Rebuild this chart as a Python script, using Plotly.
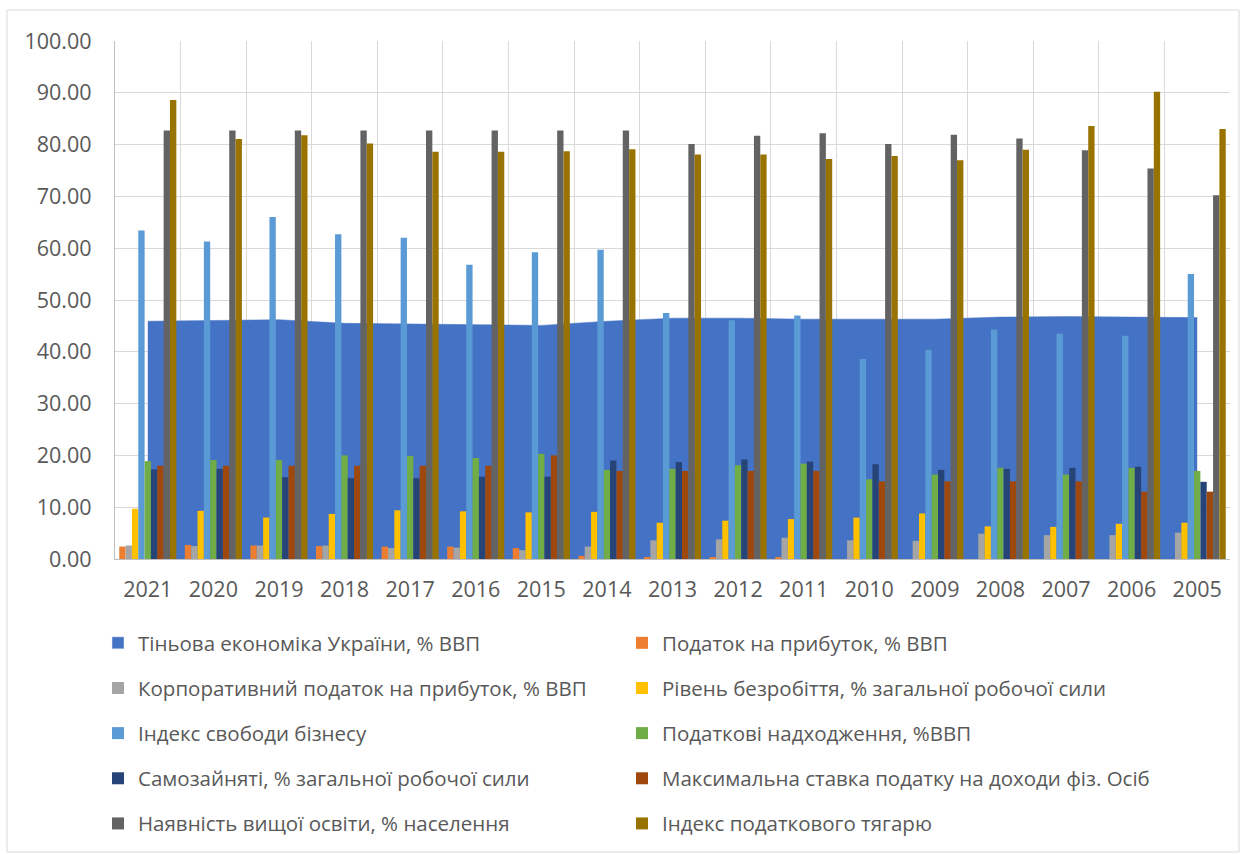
import plotly.graph_objects as go

# Years on the category axis (newest first)
years = ["2021", "2020", "2019", "2018", "2017", "2016", "2015", "2014", "2013",
         "2012", "2011", "2010", "2009", "2008", "2007", "2006", "2005"]

# Series values
shadow_economy = [45.9, 46.1, 46.2, 45.5, 45.4, 45.2, 45.1, 45.9, 46.5,
                  46.5, 46.3, 46.3, 46.3, 46.7, 46.8, 46.7, 46.6]
profit_tax = [2.4, 2.7, 2.6, 2.5, 2.4, 2.4, 2.1, 0.6, 0.3,
              0.3, 0.3, 0.0, 0.0, 0.0, 0.0, 0.0, 0.0]
corporate_tax = [2.6, 2.5, 2.6, 2.6, 2.1, 2.2, 1.7, 2.4, 3.6,
                 3.8, 4.1, 3.6, 3.5, 4.9, 4.6, 4.6, 5.1]
unemployment = [9.7, 9.3, 8.0, 8.7, 9.4, 9.2, 9.0, 9.1, 7.0,
                7.4, 7.7, 8.0, 8.8, 6.3, 6.2, 6.8, 7.0]
business_freedom = [63.4, 61.3, 66.0, 62.7, 62.0, 56.8, 59.2, 59.7, 47.5,
                    46.1, 47.0, 38.6, 40.4, 44.3, 43.5, 43.1, 55.0]
tax_revenue = [18.9, 19.1, 19.1, 20.0, 19.9, 19.5, 20.3, 17.2, 17.4,
               18.1, 18.4, 15.4, 16.3, 17.6, 16.3, 17.6, 17.0]
self_employed = [17.3, 17.4, 15.8, 15.6, 15.6, 15.9, 15.9, 19.0, 18.7,
                 19.2, 18.8, 18.3, 17.2, 17.4, 17.6, 17.8, 14.9]
max_income_tax = [18.0, 18.0, 18.0, 18.0, 18.0, 18.0, 20.0, 17.0, 17.0,
                  17.0, 17.0, 15.0, 15.0, 15.0, 15.0, 13.0, 13.0]
higher_education = [82.7, 82.7, 82.7, 82.7, 82.7, 82.7, 82.7, 82.7, 80.1,
                    81.7, 82.2, 80.1, 81.9, 81.2, 78.9, 75.4, 70.2]
tax_burden = [88.6, 81.1, 81.8, 80.2, 78.6, 78.6, 78.7, 79.1, 78.1,
              78.1, 77.2, 77.8, 77.0, 79.0, 83.6, 90.2, 83.0]

y_ticks = [0, 10, 20, 30, 40, 50, 60, 70, 80, 90, 100]

AREA_NAME = "Тіньова економіка України, % ВВП"
AREA_COLOR = "#4472C4"

# (name, values, colour, legend column)
bar_series = [
    ("Податок на прибуток, % ВВП", profit_tax, "#ED7D31", "legend2"),
    ("Корпоративний податок на прибуток, % ВВП", corporate_tax, "#A5A5A5", "legend"),
    ("Рівень безробіття, % загальної робочої сили", unemployment, "#FFC000", "legend2"),
    ("Індекс свободи бізнесу", business_freedom, "#5B9BD5", "legend"),
    ("Податкові надходження, %ВВП", tax_revenue, "#70AD47", "legend2"),
    ("Самозайняті, % загальної робочої сили", self_employed, "#264478", "legend"),
    ("Максимальна ставка податку на доходи фіз. Осіб", max_income_tax, "#9E480E", "legend2"),
    ("Наявність вищої освіти, % населення", higher_education, "#636363", "legend"),
    ("Індекс податкового тягарю", tax_burden, "#997300", "legend2"),
]

FONT = "Open Sans"
TEXT_COLOR = "#595959"
GRID = "#D9D9D9"

fig = go.Figure()

# Area series sits on the base axes so the bars (overlay axes) draw above it
fig.add_trace(go.Scatter(
    x=years, y=shadow_economy, name=AREA_NAME,
    mode="lines", line=dict(color=AREA_COLOR, width=0.5), fill="tozeroy",
    fillcolor=AREA_COLOR, xaxis="x", yaxis="y",
    showlegend=False, legendgroup="g0",
))
# Square legend key for the area series (no visible mark of its own)
fig.add_trace(go.Bar(
    x=[years[0]], y=[None], name=AREA_NAME, marker=dict(color=AREA_COLOR),
    xaxis="x", yaxis="y", legend="legend", legendgroup="g0", hoverinfo="skip",
))

for i, (name, vals, color, leg) in enumerate(bar_series):
    fig.add_trace(go.Bar(
        x=years, y=vals, name=name, marker=dict(color=color, line=dict(width=0)),
        xaxis="x2", yaxis="y2", legend=leg, legendgroup=f"g{i + 1}",
    ))

W, H = 1246, 854
ML, MR, MT, MB = 115, 16, 41, 295
PW, PH = W - ML - MR, H - MT - MB


def px_x(p):
    return (p - ML) / PW


def px_y(p):
    return (H - MB - p) / PH


legend_common = dict(
    orientation="v", traceorder="grouped", tracegroupgap=15.5,
    font=dict(family=FONT, size=20.5, color=TEXT_COLOR),
    bgcolor="rgba(0,0,0,0)", xanchor="left", yanchor="top",
    itemclick=False, itemdoubleclick=False,
)

fig.update_layout(
    width=W, height=H,
    margin=dict(l=ML, r=MR, t=MT, b=MB, autoexpand=False),
    paper_bgcolor="white", plot_bgcolor="white",
    font=dict(family=FONT, color=TEXT_COLOR),
    barmode="group", bargap=0.13, bargroupgap=0,
    showlegend=True,
    xaxis=dict(
        type="category", categoryorder="array", categoryarray=years,
        range=[-0.5, len(years) - 0.5], tickson="boundaries",
        showgrid=True, gridcolor=GRID, gridwidth=1.3,
        showline=True, linecolor="#BFBFBF", linewidth=1.3,
        ticks="", ticklabelstandoff=11,
        tickfont=dict(family=FONT, size=21.5, color=TEXT_COLOR),
        zeroline=False, fixedrange=True,
    ),
    yaxis=dict(
        range=[0, 100], tickmode="array", tickvals=y_ticks,
        tickformat=".2f", showgrid=True, gridcolor=GRID, gridwidth=1.3,
        showline=True, linecolor="#BFBFBF", linewidth=1.3,
        ticks="", ticklabelstandoff=18,
        tickfont=dict(family=FONT, size=21.5, color=TEXT_COLOR),
        zeroline=False, fixedrange=True,
    ),
    xaxis2=dict(
        type="category", categoryorder="array", categoryarray=years,
        range=[-0.5, len(years) - 0.5], overlaying="x", visible=False,
        fixedrange=True,
    ),
    yaxis2=dict(range=[0, 100], overlaying="y", visible=False, fixedrange=True),
    legend=dict(x=px_x(98), y=px_y(623), **legend_common),
    legend2=dict(x=px_x(622), y=px_y(623), **legend_common),
    shapes=[dict(
        type="rect", xref="paper", yref="paper",
        x0=px_x(7), x1=px_x(1239), y0=px_y(852), y1=px_y(10),
        line=dict(color="#D9D9D9", width=1), fillcolor="rgba(0,0,0,0)",
        layer="below",
    )],
)

fig.write_html("out.html")
